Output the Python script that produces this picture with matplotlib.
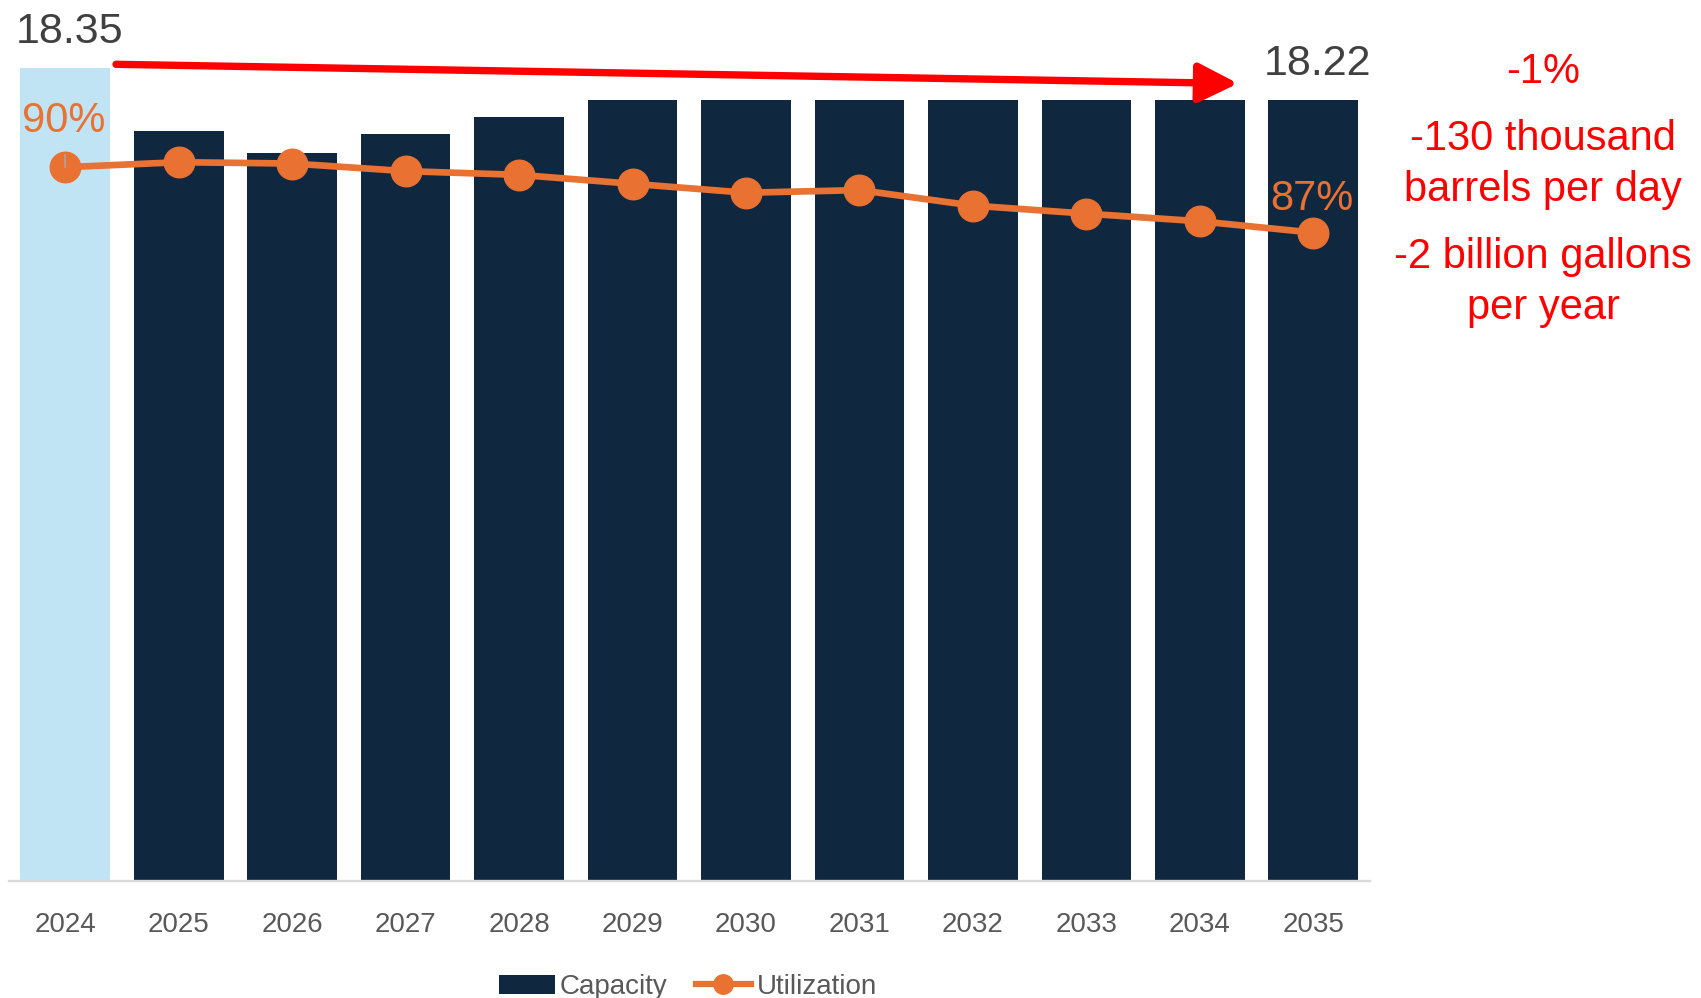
import matplotlib
matplotlib.use('Agg')
import matplotlib.pyplot as plt
from matplotlib.patches import FancyArrowPatch, Patch
from matplotlib.lines import Line2D

years = ['2024', '2025', '2026', '2027', '2028', '2029', '2030', '2031', '2032', '2033', '2034', '2035']
capacity = [18.35, 18.09, 18.00, 18.08, 18.15, 18.22, 18.22, 18.22, 18.22, 18.22, 18.22, 18.22]
utilization = [90.0, 90.23, 90.17, 89.82, 89.65, 89.24, 88.83, 88.95, 88.24, 87.87, 87.52, 87.0]
notes = [['-1%'], ['-130 thousand', 'barrels per day'], ['-2 billion gallons', 'per year']]

navy = '#10283F'
light_blue = '#C1E4F5'
orange = '#E97132'
W, H = 1701, 998

plt.rcParams['font.family'] = 'Liberation Sans'

fig = plt.figure(figsize=(W / 100, H / 100), dpi=100)
ax = fig.add_axes([8.5 / W, 117 / H, (1370 - 8.5) / W, 881 / H])
ax2 = ax.twinx()

x = list(range(len(years)))
bar_colors = [light_blue] + [navy] * (len(years) - 1)
ax.bar(x, capacity, width=0.79, color=bar_colors, zorder=2)
ax.set_xlim(-0.5, len(years) - 0.5)
ax.set_ylim(15, 18.632)

ax2.plot(x, utilization, color=orange, lw=4.8, marker='o', markersize=22, zorder=3)
ax2.set_ylim(57.26, 97.67)

for a in (ax, ax2):
    for s in ['top', 'right', 'left', 'bottom']:
        a.spines[s].set_visible(False)
    a.set_yticks([])
ax.spines['bottom'].set_visible(True)
ax.spines['bottom'].set_color('#D9D9D9')
ax.spines['bottom'].set_linewidth(1.7)

ax.set_xticks(x, years)
ax.tick_params(axis='x', length=0, pad=22, labelsize=20, labelcolor='#595959')

# first / last capacity labels
for i in (0, len(years) - 1):
    ax.annotate(f'{capacity[i]:.2f}', (i, capacity[i]), xytext=(3, 18), textcoords='offset points',
                ha='center', va='baseline', fontsize=31, color='#404040')

# first / last utilization labels
ax2.annotate(f'{round(utilization[0])}%', (0, utilization[0]), xytext=(-1, 25.6), textcoords='offset points',
             ha='center', va='baseline', fontsize=30, color=orange, zorder=5,
             arrowprops=dict(arrowstyle='-', color='#A6A6A6', lw=1.2, shrinkA=8, shrinkB=0))
ax2.annotate(f'{round(utilization[-1])}%', (len(years) - 1, utilization[-1]), xytext=(-1, 16.3),
             textcoords='offset points', ha='center', va='baseline', fontsize=30, color=orange, zorder=5)

# red trend arrow
arrow = FancyArrowPatch((116 / W, 1 - 64.3 / H), (1238 / W, 1 - 83.5 / H), transform=fig.transFigure,
                        arrowstyle='-|>,head_length=24,head_width=12', mutation_scale=1,
                        color='#FF0000', lw=5.3, shrinkA=0, shrinkB=0)
fig.patches.append(arrow)

# change notes on the right
baselines = [[83.3], [150, 201], [268.3, 319]]
for lines, ys in zip(notes, baselines):
    for line, yy in zip(lines, ys):
        fig.text(1543 / W, 1 - yy / H, line, ha='center', va='baseline', fontsize=30, color='#FF0000')

handles = [Patch(facecolor=navy),
           Line2D([], [], color=orange, lw=4.5, marker='o', markersize=14)]
fig.legend(handles, ['Capacity', 'Utilization'], loc='center', bbox_to_anchor=(688 / W, 1 - 987 / H),
           ncol=2, frameon=False, fontsize=20, handlelength=2.0, handletextpad=0.2,
           columnspacing=1.0, labelcolor='#595959')

fig.savefig('out.png', dpi=100)
